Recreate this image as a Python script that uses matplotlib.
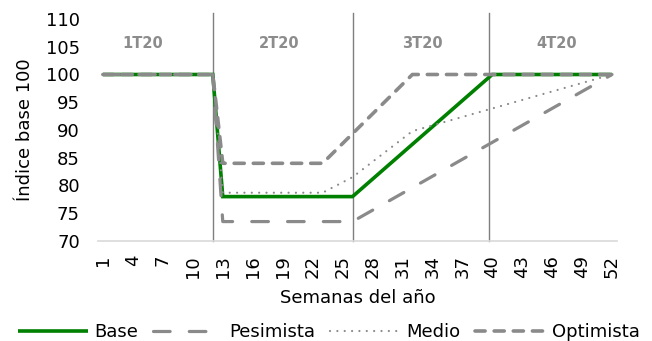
import matplotlib
matplotlib.use("Agg")
import matplotlib.pyplot as plt

plt.rcParams["font.family"] = ["DejaVu Sans"]

# Scenario paths (week -> index, base 100), given at their break points
base_weeks = [1, 12, 13, 26, 40, 52]
base_vals = [100, 100, 78, 78, 100, 100]

pesimista_weeks = [1, 12, 13, 26, 52]
pesimista_vals = [100, 100, 73.5, 73.5, 100]

medio_weeks = [1, 12, 13, 23, 26, 32, 52]
medio_vals = [100, 100, 78.7, 78.7, 81.5, 89.8, 100]

optimista_weeks = [1, 12, 13, 23, 32, 52]
optimista_vals = [100, 100, 84, 84, 100, 100]

quarters = ["1T20", "2T20", "3T20", "4T20"]
quarter_label_x = [5.0, 18.7, 33.0, 46.5]
quarter_bounds = [12, 26, 39.7]

week_ticks = list(range(1, 53, 3))
y_ticks = list(range(70, 111, 5))

GREEN = "#008000"
GRAY = "#8a8a8a"
FS = 13

fig = plt.figure(figsize=(6.52, 3.41), dpi=100)
ax = fig.add_axes([98 / 652, 1 - 241 / 341, (617 - 98) / 652, (241 - 19) / 341])

ax.plot(base_weeks, base_vals, color=GREEN, lw=2.6, solid_capstyle="butt",
        solid_joinstyle="miter", label="Base", zorder=3)
ax.plot(pesimista_weeks, pesimista_vals, color=GRAY, lw=2.3,
        linestyle=(0, (5.2, 6.0)), dash_capstyle="round", label="Pesimista", zorder=4)
ax.plot(medio_weeks, medio_vals, color=GRAY, lw=1.6,
        linestyle=(0, (0.01, 3.3)), dash_capstyle="round", label="Medio", zorder=5)
ax.plot(optimista_weeks, optimista_vals, color=GRAY, lw=2.6,
        linestyle=(0, (2.8, 2.5)), dash_capstyle="round", label="Optimista", zorder=6)

# Quarter separators and names
for xb in quarter_bounds:
    ax.plot([xb, xb], [70, 111.1], color="#7f7f7f", lw=1.0, clip_on=False, zorder=2)
for name, xq in zip(quarters, quarter_label_x):
    ax.text(xq, 105.5, name, ha="center", va="center", fontsize=10.5,
            fontweight="bold", color="#8c8c8c")

ax.set_xlim(0.5, 52.5)
ax.set_ylim(70, 110)
ax.set_xticks(week_ticks)
ax.set_xticklabels([str(w) for w in week_ticks], rotation=90, fontsize=FS)
ax.set_yticks(y_ticks)
ax.set_yticklabels([str(v) for v in y_ticks], fontsize=FS)
ax.tick_params(axis="x", length=0, pad=10)
ax.tick_params(axis="y", length=0, pad=13)

for side in ("top", "right", "left"):
    ax.spines[side].set_visible(False)
ax.spines["bottom"].set_color("#d9d9d9")
ax.spines["bottom"].set_linewidth(1.2)

ax.set_xlabel("Semanas del año", fontsize=FS)
ax.xaxis.label.set_va("center")
ax.xaxis.set_label_coords(0.5, -0.257)
ax.set_ylabel("Índice base 100", fontsize=FS)
ax.yaxis.label.set_va("center")
ax.yaxis.set_label_coords(-0.1407, 0.5)

fig.legend(loc="center", bbox_to_anchor=(0.504, 0.026), ncol=4, frameon=False,
           fontsize=FS, handlelength=3.9, handletextpad=0.33, columnspacing=0.82,
           borderpad=0, borderaxespad=0)

fig.savefig("out.png", dpi=100)
